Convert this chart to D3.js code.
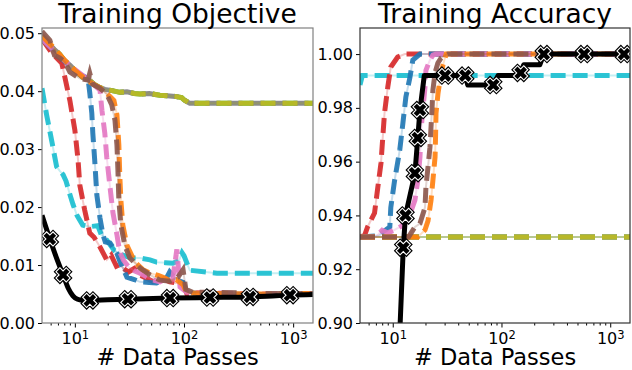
<!DOCTYPE html>
<html>
<head>
<meta charset="utf-8">
<script src="https://cdn.jsdelivr.net/npm/d3@7"></script>
<style>
  body { margin: 0; background: #fff; }
  text { font-family: "DejaVu Sans", sans-serif; }
</style>
</head>
<body>
<svg width="632" height="370"></svg>
<script>
// ---- data: [data passes, value] ----
var xDomain = [5, 1520];
var xMajor = [10, 100, 1000];
var xMinor = [6, 7, 8, 9, 20, 30, 40, 50, 60, 70, 80, 90, 200, 300, 400, 500, 600, 700, 800, 900];
var objTicks = [0, 0.01, 0.02, 0.03, 0.04, 0.05];
var accTicks = [0.90, 0.92, 0.94, 0.96, 0.98, 1.00];

// training objective
var objGroup = [[5,0.0495],[5.5,0.0486],[6.5,0.0472],[7.3,0.0463],[8.1,0.0452],[9,0.0445],[10,0.0436],[11,0.0429],[12.4,0.0421],[13.5,0.0419],[15.2,0.0411],[17,0.0406],[18.8,0.0403],[22,0.0401],[25.8,0.0398],[30,0.0399],[35,0.0396],[39.5,0.0395],[48,0.0396],[60,0.0393],[70,0.0392],[83,0.0391],[95,0.0389],[100,0.0385],[113,0.0379],[200,0.0379],[500,0.0379],[1520,0.0379]];
var objCyan = [[5,0.0405],[5.5,0.036],[6.2,0.031],[6.8,0.027],[7.3,0.0262],[7.8,0.0256],[8.3,0.0245],[9,0.0222],[9.6,0.0205],[10.5,0.0185],[11.8,0.0169],[13.5,0.0166],[16.2,0.0168],[17.5,0.0152],[19.6,0.0143],[23,0.0125],[27.5,0.0117],[33,0.0112],[39.5,0.0112],[48.8,0.0109],[56,0.0105],[68,0.0104],[79,0.0103],[90,0.0108],[96,0.0121],[100,0.0116],[113,0.0091],[200,0.0086],[500,0.0086],[1520,0.0086]];
var objRed = [[5,0.049],[6.15,0.0466],[7.6,0.0448],[9,0.0384],[10,0.0333],[10.7,0.0281],[11.1,0.0238],[12.3,0.0195],[13.7,0.0155],[15,0.0148],[17,0.0131],[19.6,0.0109],[21.5,0.0117],[24,0.0098],[25.8,0.0101],[28,0.0094],[31,0.0088],[35,0.0094],[40,0.0082],[48.8,0.0074],[55,0.0069],[65,0.0076],[74,0.0071],[85,0.0069],[98,0.0069],[106,0.0051],[200,0.0050],[500,0.0049],[1520,0.0051]];
var objBlue = [[5,0.049],[8,0.0452],[11,0.0429],[13.2,0.0422],[13.7,0.0397],[14.3,0.0362],[14.6,0.0328],[15.2,0.0281],[15.9,0.0221],[17,0.0181],[18.1,0.0152],[19,0.0140],[21,0.0138],[24.3,0.0120],[26,0.0105],[30,0.0079],[35,0.0075],[39.5,0.0071],[48,0.0070],[56,0.0069],[68,0.0075],[74,0.0088],[85,0.0075],[98,0.0070],[106,0.0052],[200,0.0050],[500,0.0049],[1520,0.0051]];
var objPink = [[5,0.049],[9,0.0444],[13,0.0421],[17,0.0402],[17.7,0.0367],[18.8,0.0328],[19.6,0.0286],[20.9,0.0238],[22.3,0.0191],[24.3,0.0152],[25.8,0.0122],[28,0.0108],[31,0.0097],[35,0.0090],[39.5,0.0086],[45,0.0080],[52,0.0074],[60,0.0071],[68,0.0076],[78,0.0070],[86,0.0127],[92,0.0062],[106,0.0053],[200,0.0052],[500,0.0050],[1520,0.0051]];
var objOrange = [[5,0.0495],[6.5,0.0474],[8,0.0454],[10,0.0436],[13,0.0418],[17,0.0406],[20.9,0.0391],[22.8,0.0384],[24.3,0.0359],[25.3,0.0307],[25.8,0.0255],[26.4,0.0212],[27.5,0.0169],[30,0.0134],[35.5,0.0105],[42,0.0092],[48.8,0.0086],[58,0.0082],[66,0.0078],[74,0.0073],[85,0.0075],[98,0.0066],[106,0.0052],[200,0.0051],[500,0.0050],[1520,0.0051]];
var objBrown = [[5,0.0503],[5.9,0.0488],[6.5,0.0462],[7.3,0.0457],[8.1,0.0450],[9,0.0433],[11.1,0.0422],[13.2,0.0419],[13.7,0.0431],[14.6,0.0412],[17,0.0405],[19.6,0.0395],[21.8,0.0376],[23.3,0.0350],[24.3,0.0307],[24.8,0.0264],[25.3,0.0212],[26.4,0.0169],[28.7,0.0134],[31.9,0.0112],[39.5,0.0095],[48.8,0.0083],[60,0.0074],[74,0.0072],[88,0.0079],[98,0.0092],[104,0.0058],[120,0.0053],[200,0.0053],[500,0.0051],[1520,0.0051]];
var objBlack = [[5,0.0186],[5.9,0.0145],[6.8,0.0112],[7.8,0.0083],[8.7,0.0060],[9.6,0.0047],[10.6,0.0041],[12,0.0039],[13.7,0.0039],[20,0.0040],[30.6,0.0041],[74.5,0.0043],[173,0.0044],[402,0.0045],[700,0.0047],[935,0.0048],[1520,0.0049]];
var objBlackMarks = [[5.9,0.0145],[7.8,0.0083],[13.7,0.0039],[30.6,0.0041],[74.5,0.0043],[173,0.0044],[402,0.0045],[935,0.0048]];

// training accuracy
var accGroup = [[5,0.932],[1520,0.932]];
var accCyan = [[5,0.9885],[5.25,0.992],[1520,0.992]];
var accRed = [[5,0.932],[5.5,0.9325],[5.87,0.9357],[6.8,0.9409],[7.3,0.9506],[7.8,0.9595],[8.1,0.9691],[8.4,0.978],[9,0.9877],[9.6,0.9952],[11.1,0.9989],[12.9,1.0],[1520,1.0]];
var accBlue = [[5,0.932],[7.5,0.9325],[8.2,0.934],[9.4,0.9357],[9.6,0.943],[10.4,0.953],[11.6,0.9643],[12.4,0.9743],[13.2,0.984],[14.4,0.9914],[15.3,0.9978],[17.8,1.0],[1520,1.0]];
var accPink = [[5,0.932],[7,0.932],[8,0.9345],[9,0.9335],[10.4,0.9346],[12,0.936],[13.8,0.9383],[16,0.9457],[17,0.953],[17.8,0.9617],[18.2,0.9717],[19,0.98],[19.8,0.9877],[20.2,0.994],[22,0.9978],[23.4,0.9996],[25,1.0],[1520,1.0]];
var accOrange = [[5,0.932],[17,0.932],[19.8,0.9346],[21.1,0.938],[22.5,0.9457],[23.4,0.953],[24.5,0.9617],[24.8,0.9706],[25,0.978],[26.1,0.9855],[27.2,0.9903],[29,0.996],[31,1.0],[1520,1.0]];
var accBrown = [[5,0.932],[14,0.932],[16,0.9357],[17.8,0.937],[19.8,0.943],[20.2,0.9506],[21.1,0.958],[22,0.9654],[22.5,0.9729],[23,0.98],[23.4,0.9866],[24.5,0.993],[26,0.9967],[27.8,0.9985],[32,1.0],[1520,1.0]];
var accBlack = [[11.3,0.885],[12.5,0.928],[13.1,0.940],[16,0.9557],[17,0.9688],[17.8,0.9792],[19.5,0.992],[30.3,0.992],[46.4,0.992],[49,0.9885],[84,0.9885],[93,0.992],[140,0.992],[150,0.993],[160,0.996],[225,0.996],[245,1.0],[575,1.0],[1340,1.0],[1520,1.0]];
var accBlackMarks = [[12.5,0.928],[13.1,0.940],[16,0.9557],[17,0.9688],[17.8,0.9792],[30.3,0.992],[46.4,0.992],[84,0.9885],[150,0.993],[245,1.0],[575,1.0],[1340,1.0]];

var colors = {blue: "#1f77b4", orange: "#ff7f0e", green: "#2ca02c", red: "#d62728",
              brown: "#8c564b", pink: "#e377c2", gray: "#7f7f7f", olive: "#bcbd22", cyan: "#17becf"};

var svg = d3.select("svg");

var panels = [
  {id: "obj", left: 42, right: 313, title: "Training Objective", yDomain: [0, 0.0509], yTicks: objTicks, spine: "#808080",
   series: [
     {c: "green", d: objGroup}, {c: "gray", d: objGroup, off: 11}, {c: "olive", d: objGroup},
     {c: "cyan", d: objCyan}, {c: "red", d: objRed}, {c: "blue", d: objBlue}, {c: "pink", d: objPink},
     {c: "orange", d: objOrange}, {c: "brown", d: objBrown}],
   black: objBlack, marks: objBlackMarks, curve: d3.curveMonotoneX},
  {id: "acc", left: 360, right: 630, title: "Training Accuracy", yDomain: [0.9, 1.0097], yTicks: accTicks, spine: "#333",
   series: [
     {c: "green", d: accGroup}, {c: "gray", d: accGroup}, {c: "olive", d: accGroup},
     {c: "cyan", d: accCyan}, {c: "red", d: accRed}, {c: "blue", d: accBlue}, {c: "pink", d: accPink},
     {c: "orange", d: accOrange}, {c: "brown", d: accBrown}],
   black: accBlack, marks: accBlackMarks, curve: d3.curveLinear}
];

var plotTop = 28, plotBottom = 323;

panels.forEach(function (p) {
  var x = d3.scaleLog().domain(xDomain).range([p.left, p.right]);
  var y = d3.scaleLinear().domain(p.yDomain).range([plotBottom, plotTop]);

  svg.append("clipPath").attr("id", "clip-" + p.id)
    .append("rect").attr("x", p.left).attr("y", plotTop)
    .attr("width", p.right - p.left).attr("height", plotBottom - plotTop);

  var plot = svg.append("g").attr("clip-path", "url(#clip-" + p.id + ")");

  var line = d3.line()
    .x(function (d) { return x(d[0]); })
    .y(function (d) { return y(d[1]); });

  p.series.forEach(function (s) {
    // faint solid line under the dashes
    plot.append("path")
      .attr("d", line(s.d))
      .attr("fill", "none")
      .attr("stroke", colors[s.c])
      .attr("stroke-opacity", 0.25)
      .attr("stroke-width", 2);
    plot.append("path")
      .attr("d", line(s.d))
      .attr("fill", "none")
      .attr("stroke", colors[s.c])
      .attr("stroke-opacity", 0.9)
      .attr("stroke-width", 5)
      .attr("stroke-dasharray", "15,7")
      .attr("stroke-dashoffset", s.off || 0);
  });

  var blackLine = d3.line()
    .curve(p.curve)
    .x(function (d) { return x(d[0]); })
    .y(function (d) { return y(d[1]); });

  plot.append("path")
    .attr("d", blackLine(p.black))
    .attr("fill", "none")
    .attr("stroke", "#000")
    .attr("stroke-width", 5)
    .attr("stroke-linejoin", "round");

  // X markers: black body, thin white edge, black rim
  var sym = d3.symbol().type(d3.symbolCross).size(100);
  var mk = plot.selectAll(".mk-" + p.id)
    .data(p.marks)
    .enter().append("g")
    .attr("class", "mk-" + p.id)
    .attr("transform", function (d) { return "translate(" + x(d[0]) + "," + y(d[1]) + ") rotate(45)"; });
  mk.append("path").attr("d", sym).attr("fill", "#000").attr("stroke", "#000").attr("stroke-width", 4.5);
  mk.append("path").attr("d", sym).attr("fill", "none").attr("stroke", "#fff").attr("stroke-width", 2.2);
  mk.append("path").attr("d", sym).attr("fill", "#000");

  // axes
  var yAxis = svg.append("g")
    .attr("transform", "translate(" + p.left + ",0)")
    .call(d3.axisLeft(y).tickValues(p.yTicks).tickFormat(d3.format(".2f")).tickSize(4).tickPadding(3));
  yAxis.selectAll("text").attr("font-size", 16).attr("fill", "#000").style("font-family", "DejaVu Sans");
  yAxis.select(".domain").remove();

  var xAxis = svg.append("g")
    .attr("transform", "translate(0," + plotBottom + ")")
    .call(d3.axisBottom(x).tickValues(xMajor).tickSize(4.5).tickPadding(5).tickFormat(""));
  xAxis.select(".domain").remove();
  xAxis.selectAll(".tick text")
    .attr("font-size", 16).attr("fill", "#000").style("font-family", "DejaVu Sans")
    .each(function (d) {
      var t = d3.select(this);
      t.append("tspan").text("10");
      t.append("tspan").attr("dy", "-0.42em").attr("font-size", 11.5).text(Math.round(Math.log10(d)));
    });

  var xMinorAxis = svg.append("g")
    .attr("transform", "translate(0," + plotBottom + ")")
    .call(d3.axisBottom(x).tickValues(xMinor).tickSize(2.5).tickFormat(""));
  xMinorAxis.select(".domain").remove();

  // frame
  svg.append("rect")
    .attr("x", p.left).attr("y", plotTop)
    .attr("width", p.right - p.left).attr("height", plotBottom - plotTop)
    .attr("fill", "none").attr("stroke", p.spine).attr("stroke-width", 1.2);

  svg.append("text")
    .attr("x", (p.left + p.right) / 2).attr("y", 23)
    .attr("text-anchor", "middle").attr("font-size", 26.5)
    .text(p.title);

  svg.append("text")
    .attr("x", (p.left + p.right) / 2).attr("y", 365)
    .attr("text-anchor", "middle").attr("font-size", 22.5)
    .text("# Data Passes");
});
</script>
</body>
</html>
